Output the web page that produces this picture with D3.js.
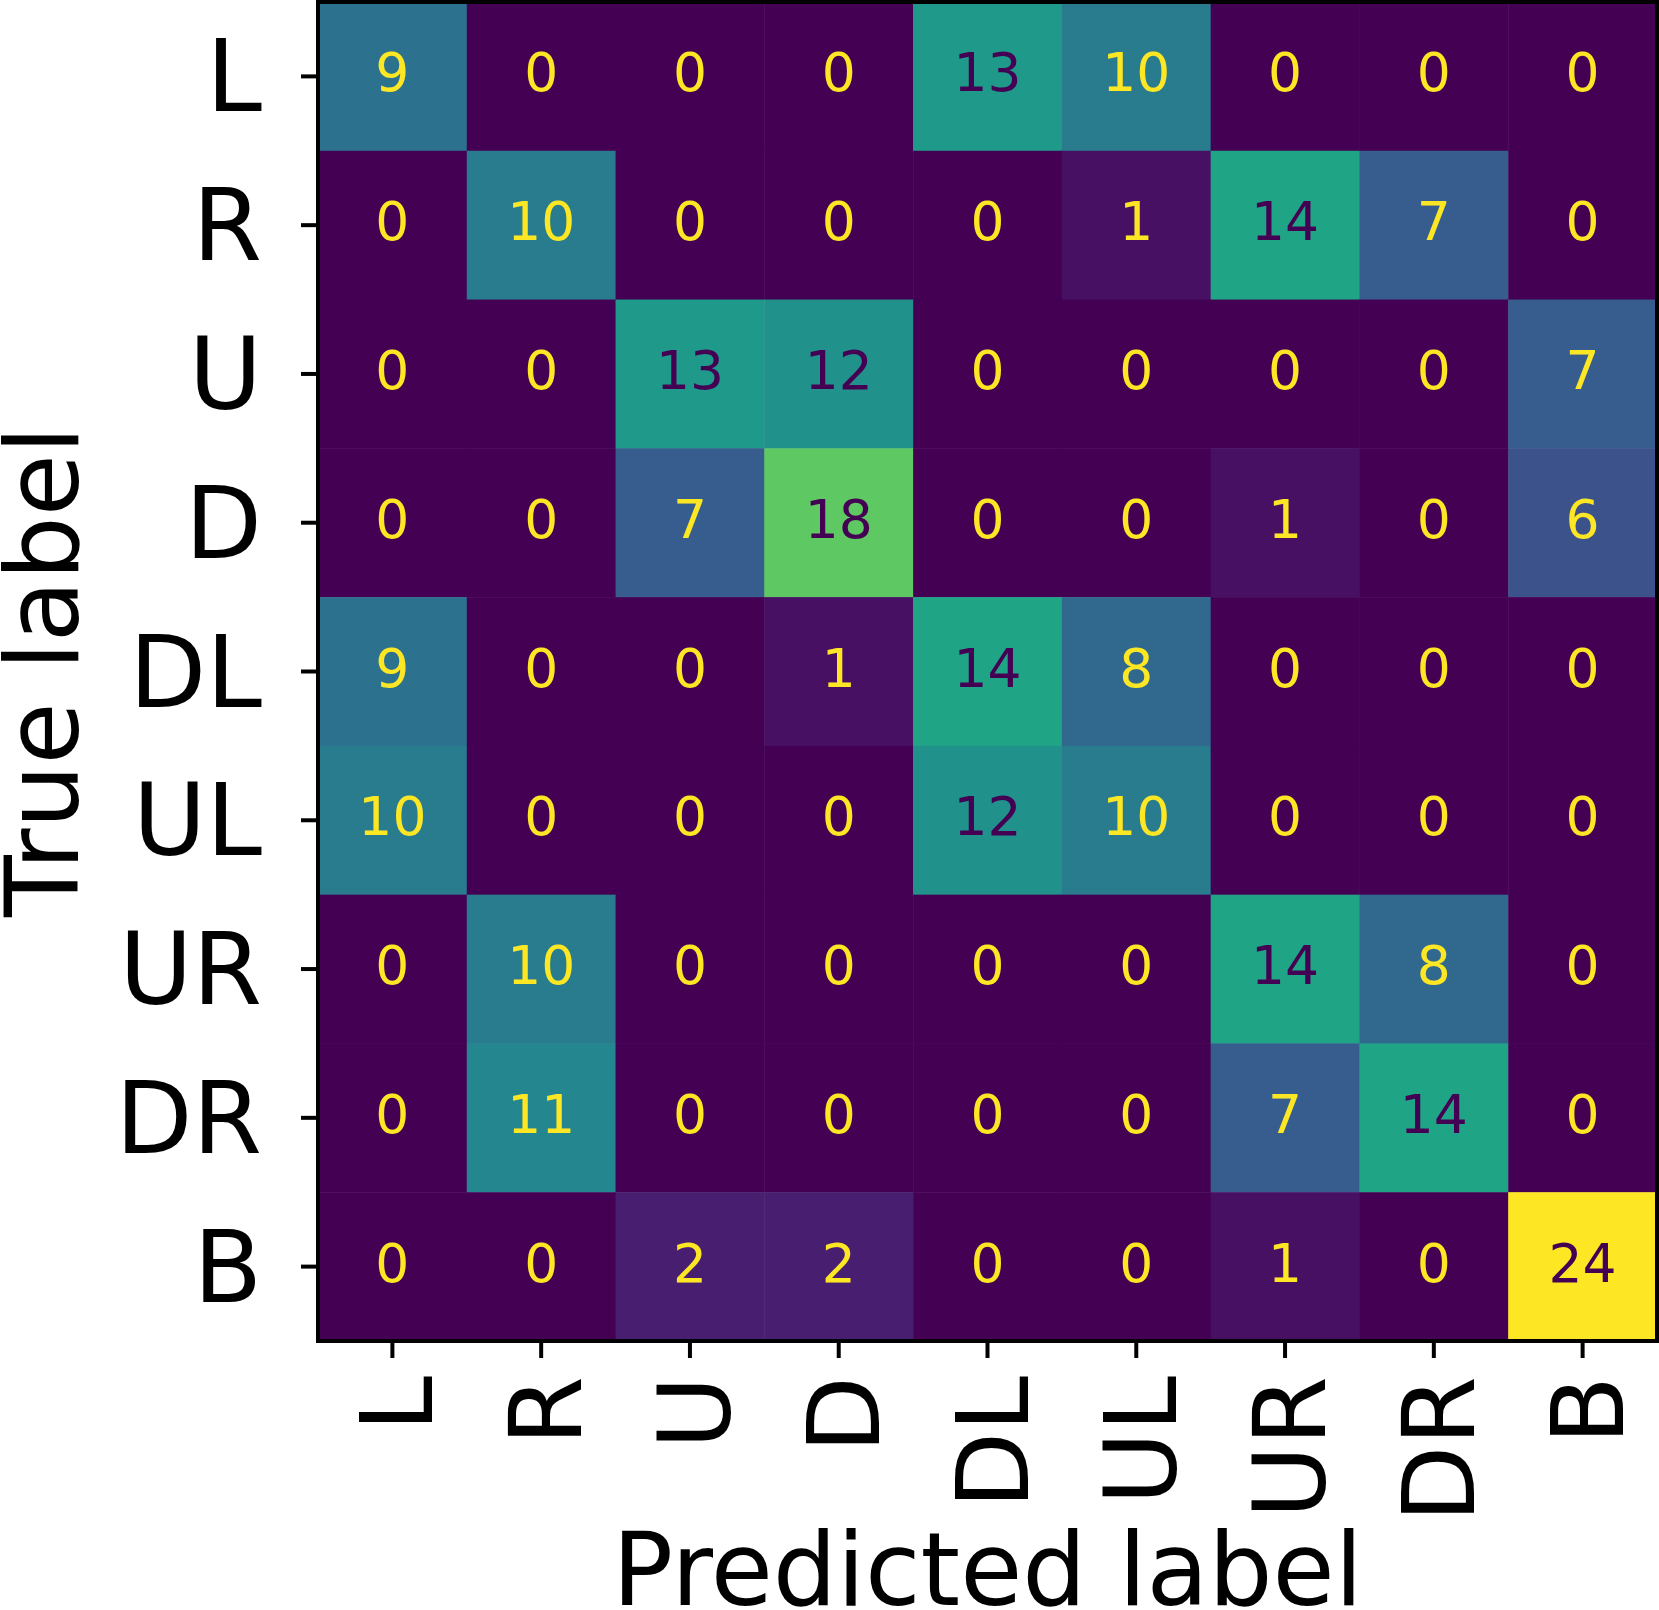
<!DOCTYPE html>
<html>
<head>
<meta charset="utf-8">
<script src="https://cdn.jsdelivr.net/npm/d3@7"></script>
<style>
  body { margin: 0; background: #fff; }
  svg { display: block; }
  text { font-family: "DejaVu Sans", sans-serif; }
</style>
</head>
<body>
<div id="chart"></div>
<script>
// class labels (rows = true, columns = predicted)
var labels = ["L", "R", "U", "D", "DL", "UL", "UR", "DR", "B"];

// confusion matrix counts, one array per true label
var row_L  = [9, 0, 0, 0, 13, 10, 0, 0, 0];
var row_R  = [0, 10, 0, 0, 0, 1, 14, 7, 0];
var row_U  = [0, 0, 13, 12, 0, 0, 0, 0, 7];
var row_D  = [0, 0, 7, 18, 0, 0, 1, 0, 6];
var row_DL = [9, 0, 0, 1, 14, 8, 0, 0, 0];
var row_UL = [10, 0, 0, 0, 12, 10, 0, 0, 0];
var row_UR = [0, 10, 0, 0, 0, 0, 14, 8, 0];
var row_DR = [0, 11, 0, 0, 0, 0, 7, 14, 0];
var row_B  = [0, 0, 2, 2, 0, 0, 1, 0, 24];

var matrix = [row_L, row_R, row_U, row_D, row_DL, row_UL, row_UR, row_DR, row_B];

var xTitle = "Predicted label";
var yTitle = "True label";

function draw_confusion(wrapper)
{
  var width = 1659, height = 1610;
  var left = 318, top = 2, size = 1339;

  var svg = d3.select(wrapper).append("svg")
    .attr("width", width)
    .attr("height", height);

  var cells = [];
  matrix.forEach(function(row, i) {
    row.forEach(function(v, j) {
      cells.push({ t: labels[i], p: labels[j], v: v });
    });
  });

  var vmax = d3.max(cells, function(d) { return d.v; });
  var vmin = d3.min(cells, function(d) { return d.v; });
  var thresh = (vmax + vmin) / 2;

  var x = d3.scaleBand().domain(labels).range([0, size]);
  var y = d3.scaleBand().domain(labels).range([0, size]);
  var color = d3.scaleSequential(d3.interpolateViridis).domain([vmin, vmax]);

  var g = svg.append("g")
    .attr("transform", "translate(" + left + "," + top + ")");

  // heatmap cells
  g.selectAll("rect.cell")
    .data(cells)
    .join("rect")
      .attr("class", "cell")
      .attr("x", function(d) { return x(d.p); })
      .attr("y", function(d) { return y(d.t); })
      .attr("width", x.bandwidth() + 0.5)
      .attr("height", y.bandwidth() + 0.5)
      .attr("fill", function(d) { return color(d.v); });

  // counts
  g.selectAll("text.count")
    .data(cells)
    .join("text")
      .attr("class", "count")
      .attr("x", function(d) { return x(d.p) + x.bandwidth() / 2; })
      .attr("y", function(d) { return y(d.t) + y.bandwidth() / 2 + 15; })
      .attr("text-anchor", "middle")
      .attr("font-size", "53.5px")
      .attr("fill", function(d) { return d.v < thresh ? color(vmax) : color(vmin); })
      .text(function(d) { return d.v; });

  // axes
  var yAxis = d3.axisLeft(y).tickSize(17).tickPadding(0);
  var xAxis = d3.axisBottom(x).tickSize(17).tickPadding(0);

  var ya = g.append("g").call(yAxis);
  ya.select(".domain").remove();
  ya.selectAll(".tick line").attr("stroke", "#000").attr("stroke-width", 4);
  ya.selectAll(".tick text")
    .attr("x", -56)
    .attr("dy", null)
    .attr("y", 35)
    .attr("font-size", "100px")
    .attr("font-family", "DejaVu Sans")
    .attr("fill", "#000")
    .attr("text-anchor", "end");

  var xa = g.append("g")
    .attr("transform", "translate(0," + size + ")")
    .call(xAxis);
  xa.select(".domain").remove();
  xa.selectAll(".tick line").attr("stroke", "#000").attr("stroke-width", 4);
  xa.selectAll(".tick text")
    .attr("x", null)
    .attr("y", null)
    .attr("dy", null)
    .attr("font-size", "100px")
    .attr("font-family", "DejaVu Sans")
    .attr("fill", "#000")
    .attr("text-anchor", "end")
    .attr("transform", "translate(40,35) rotate(-90)");

  // frame
  g.append("rect")
    .attr("x", 0)
    .attr("y", 0)
    .attr("width", size)
    .attr("height", size)
    .attr("fill", "none")
    .attr("stroke", "#000")
    .attr("stroke-width", 4);

  // axis titles
  svg.append("text")
    .attr("x", left + size / 2)
    .attr("y", 1605)
    .attr("text-anchor", "middle")
    .attr("font-size", "101px")
    .text(xTitle);

  svg.append("text")
    .attr("transform", "translate(78," + (top + size / 2) + ") rotate(-90)")
    .attr("text-anchor", "middle")
    .attr("font-size", "101px")
    .text(yTitle);

  return svg.node();
}

draw_confusion("#chart");
</script>
</body>
</html>
